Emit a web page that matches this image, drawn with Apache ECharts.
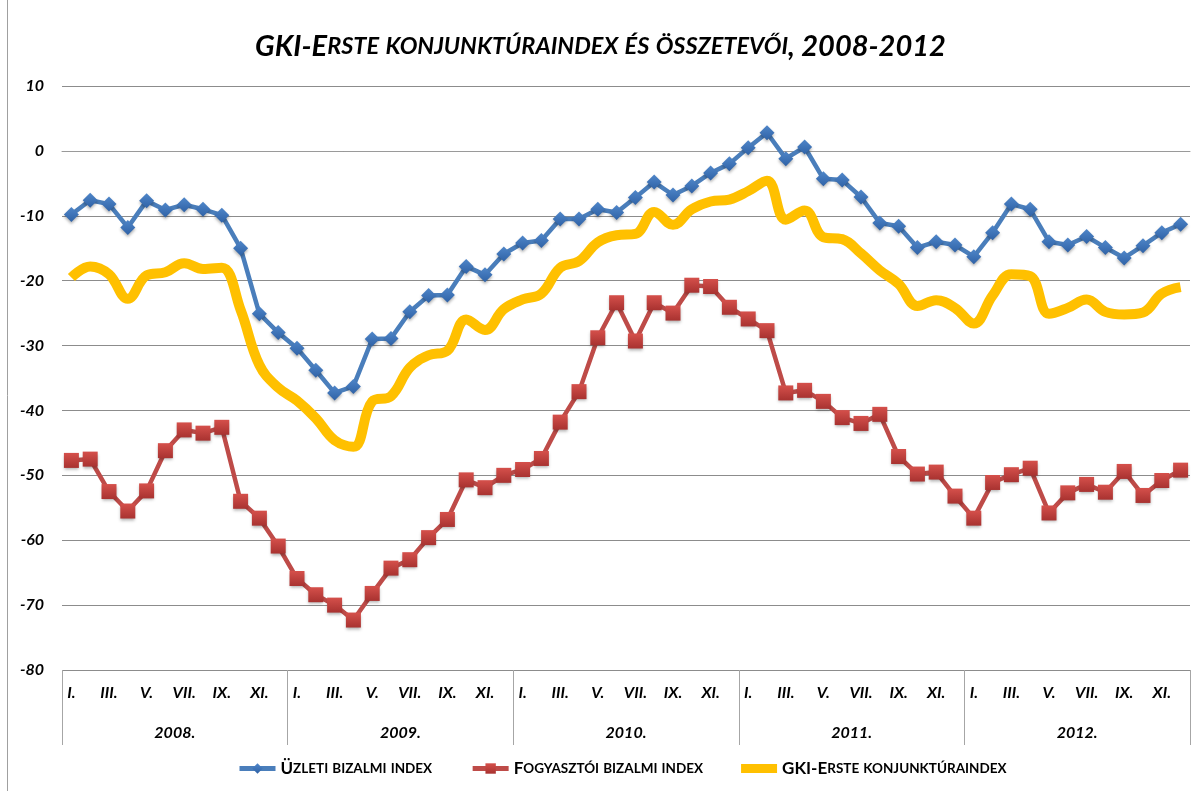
<!DOCTYPE html>
<html lang="hu">
<head>
  <meta charset="UTF-8">
  <title>GKI-Erste konjunktúraindex</title>
  <style>
    * { padding: 0; margin: 0; }
    html, body { width: 100%; height: 100%; background: #fff; }
    #chart { width: 1201px; height: 791px; }
  </style>
  <script src="https://cdn.jsdelivr.net/npm/echarts@6/dist/echarts.min.js"></script>
</head>
<body>
  <div id="chart"></div>
  <script>
    // adatok, havonta 2008 jan - 2012 dec
    var years = ['2008.', '2009.', '2010.', '2011.', '2012.'];
    var monthNames = ['I.', 'II.', 'III.', 'IV.', 'V.', 'VI.', 'VII.', 'VIII.', 'IX.', 'X.', 'XI.', 'XII.'];
    var seriesNames = ['Üzleti bizalmi index', 'Fogyasztói bizalmi index', 'GKI-Erste konjunktúraindex'];

    var uzleti = [
      -9.8, -7.6, -8.2, -11.8, -7.7, -9.1, -8.3, -9.0, -9.9, -15.0,
      -25.1, -28.0, -30.4, -33.8, -37.3, -36.3, -29.0, -28.9, -24.8, -22.3,
      -22.2, -17.8, -19.1, -15.9, -14.2, -13.8, -10.5, -10.5, -9.0, -9.5,
      -7.2, -4.8, -6.8, -5.4, -3.4, -2.0, 0.5, 2.8, -1.2, 0.6,
      -4.3, -4.5, -7.1, -11.1, -11.6, -14.9, -14.0, -14.5, -16.3, -12.6,
      -8.2, -9.0, -14.0, -14.5, -13.2, -14.9, -16.5, -14.6, -12.6, -11.3
    ];
    var fogyasztoi = [
      -47.7, -47.5, -52.5, -55.5, -52.4, -46.2, -43.0, -43.5, -42.6, -54.0,
      -56.6, -60.9, -65.9, -68.4, -70.0, -72.3, -68.2, -64.3, -63.0, -59.6,
      -56.8, -50.7, -51.9, -50.0, -49.1, -47.4, -41.8, -37.1, -28.8, -23.4,
      -29.3, -23.4, -25.0, -20.7, -20.9, -24.1, -25.9, -27.7, -37.3, -36.9,
      -38.6, -41.1, -42.0, -40.6, -47.1, -49.8, -49.5, -53.2, -56.6, -51.1,
      -49.9, -48.9, -55.8, -52.7, -51.4, -52.6, -49.4, -53.1, -50.8, -49.2
    ];
    var gki = [
      -19.5, -17.8, -19.0, -22.8, -19.2, -18.7, -17.3, -18.2, -18.0, -24.5,
      -33.0, -36.5, -38.5, -41.2, -44.6, -45.6, -38.6, -37.8, -33.4, -31.5,
      -30.8, -26.0, -27.6, -24.4, -22.9, -22.0, -18.0, -17.0, -14.1, -13.0,
      -12.8, -9.4, -11.4, -9.0, -7.8, -7.5, -6.2, -4.6, -10.6, -9.2,
      -13.3, -13.6, -15.8, -18.4, -20.5, -23.9, -23.0, -24.2, -26.6, -22.3,
      -19.0, -19.3, -25.1, -24.2, -22.9, -24.8, -25.2, -24.9, -22.0, -21.0
    ];

    var months = [];
    years.forEach(function (y) {
      monthNames.forEach(function (m) { months.push(m); });
    });

    // kiskapitális (small caps) utánzása rich texttel
    function smallCaps(str) {
      return str.replace(/[a-záéíóöőúüű]+/g, function (m) {
        return '{s|' + m.toUpperCase() + '}';
      });
    }

    var font = 'Lato, "Open Sans", sans-serif';
    var labelFont = { fontFamily: font, fontSize: 16, fontWeight: 'bold', fontStyle: 'italic', color: '#000' };
    var chart = echarts.init(document.getElementById('chart'));

    var option = {
      backgroundColor: '#fff',
      animation: false,
      title: {
        text: smallCaps('GKI-Erste konjunktúraindex és összetevői, 2008-2012'),
        left: 'center',
        top: 27,
        textStyle: {
          fontFamily: font, fontSize: 29, fontWeight: 'bold', fontStyle: 'italic', color: '#000',
          rich: {
            s: { fontFamily: font, fontSize: 23.5, fontWeight: 'bold', fontStyle: 'italic', color: '#000' }
          }
        }
      },
      graphic: [{
        type: 'line',
        shape: { x1: 7.5, y1: 0, x2: 7.5, y2: 791 },
        style: { stroke: '#a0a0a0', lineWidth: 1 }
      }],
      legend: {
        bottom: 9,
        left: 232,
        itemWidth: 36,
        itemHeight: 13,
        itemGap: 38,
        lineStyle: { width: 5 },
        data: [
          { name: seriesNames[0] },
          { name: seriesNames[1] },
          { name: seriesNames[2], icon: 'path://M0,0L36,0L36,9L0,9Z', itemStyle: { color: '#ffc000' } }
        ],
        formatter: function (name) { return smallCaps(name); },
        textStyle: {
          fontFamily: font, fontSize: 17, fontWeight: 'bold', color: '#000',
          rich: { s: { fontFamily: font, fontSize: 13.5, fontWeight: 'bold', color: '#000' } }
        }
      },
      grid: { left: 62, right: 11, top: 86, bottom: 121 },
      xAxis: [{
        type: 'category',
        data: months,
        boundaryGap: true,
        axisLine: { lineStyle: { color: '#9a9a9a' } },
        axisTick: { show: false },
        axisLabel: Object.assign({ interval: 1, margin: 15 }, labelFont)
      }, {
        type: 'category',
        position: 'bottom',
        data: years,
        boundaryGap: true,
        axisLine: { show: false },
        axisTick: { show: true, length: 75, lineStyle: { color: '#a6a6a6' } },
        axisLabel: Object.assign({ margin: 55 }, labelFont)
      }],
      yAxis: {
        type: 'value',
        min: -80,
        max: 10,
        interval: 10,
        axisLine: { show: false },
        axisTick: { show: false },
        splitLine: { lineStyle: { color: '#8c8c8c' } },
        axisLabel: Object.assign({ margin: 18 }, labelFont)
      },
      series: [{
        name: seriesNames[0],
        type: 'line',
        data: uzleti,
        symbol: 'diamond',
        symbolSize: 15,
        showAllSymbol: true,
        lineStyle: { color: '#4a7ebb', width: 4.5 },
        itemStyle: {
          color: {
            type: 'linear', x: 0, y: 0, x2: 0, y2: 1,
            colorStops: [{ offset: 0, color: '#4f86c9' }, { offset: 1, color: '#2f62a6' }]
          },
          shadowBlur: 3, shadowColor: 'rgba(0,0,0,0.3)', shadowOffsetY: 2
        },
        z: 3
      }, {
        name: seriesNames[1],
        type: 'line',
        data: fogyasztoi,
        symbol: 'rect',
        symbolSize: 15,
        showAllSymbol: true,
        lineStyle: { color: '#be4b48', width: 4.5 },
        itemStyle: {
          color: {
            type: 'linear', x: 0, y: 0, x2: 0, y2: 1,
            colorStops: [{ offset: 0, color: '#d5504b' }, { offset: 1, color: '#a83230' }]
          },
          shadowBlur: 3, shadowColor: 'rgba(0,0,0,0.3)', shadowOffsetY: 2
        },
        z: 3
      }, {
        name: seriesNames[2],
        type: 'line',
        data: gki,
        smooth: 0.4,
        symbol: 'none',
        lineStyle: { color: '#ffc000', width: 10 },
        itemStyle: { color: '#ffc000' },
        z: 2
      }]
    };

    chart.setOption(option);
  </script>
</body>
</html>
